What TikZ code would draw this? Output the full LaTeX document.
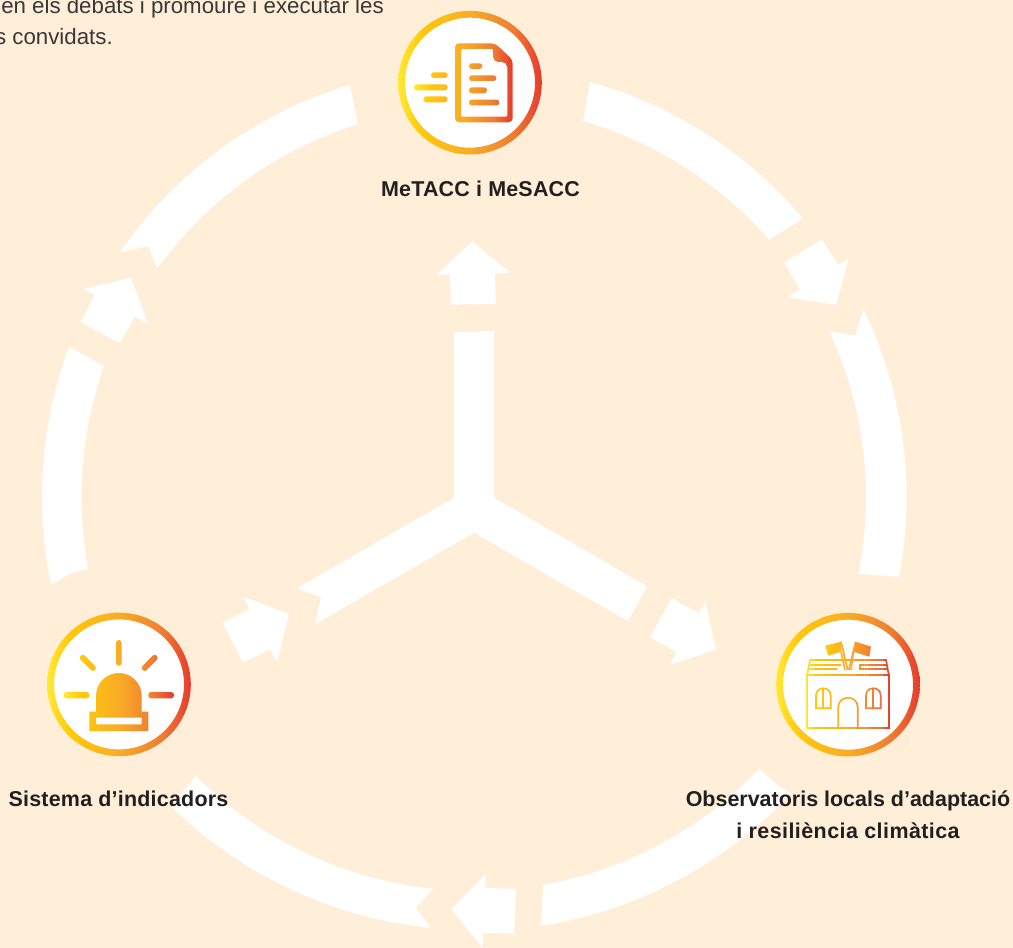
\documentclass[tikz,border=0pt]{standalone}
\usepackage{fontspec}
\setmainfont{Liberation Sans}
\definecolor{bgc}{HTML}{FFEFD8}
\definecolor{gA}{HTML}{FFE933}
\definecolor{gB}{HTML}{FFC80A}
\definecolor{gC}{HTML}{F8AC26}
\definecolor{gD}{HTML}{EF7D31}
\definecolor{gE}{HTML}{E63A2E}
\definecolor{labelc}{HTML}{231F20}
\definecolor{bodyc}{HTML}{3A3738}
\pgfdeclarehorizontalshading{grad}{100bp}{color(0bp)=(gA); color(25bp)=(gA); color(33bp)=(gB); color(50bp)=(gC); color(65bp)=(gD); color(75bp)=(gE); color(100bp)=(gE)}
\pgfdeclarehorizontalshading{gradflag}{100bp}{color(0bp)=(gB); color(25bp)=(gB); color(50bp)=(gC); color(75bp)=(gD); color(100bp)=(gD)}
\def\segm#1#2#3{-- plot[domain=#2:#3,samples=40,variable=\ang] ({474+#1*cos(\ang)},{497+#1*sin(\ang)})}
\def\rbar#1#2#3#4{(#1,#2) rectangle (#3,#4)}
\newcommand\iconring[2]{%
  \fill[white] (#1,#2) circle (66);
  \shade[shading=grad,even odd rule] (#1,#2) circle (71.8) (#1,#2) circle (65);
}
\newcommand\housestrokes{%
  \draw (807.3,674.7) rectangle (888.7,728.3);
  \draw (807.3,674.7) -- (810,660) -- (886,660) -- (888.7,674.7);
  \draw (809.3,664.7) -- (841,664.7);
  \draw (808.7,669.3) -- (837,669.3);
  \draw (886.7,664.7) -- (860,664.7) -- (860,669.3) -- (888,669.3);
  \draw (841,641.7) -- (847.7,670);
  \draw (841,651.7) -- (845,670);
  \draw (855.7,641.7) -- (848.8,670);
  \draw (853.3,651.7) -- (851,670);
  \draw (816,708.3) -- (816,695.6) .. controls (816,691) and (819,688.3) .. (823.3,688.3) .. controls (827.6,688.3) and (830.7,691) .. (830.7,695.6) -- (830.7,708.3) -- cycle;
  \draw (823.3,688.3) -- (823.3,708.3);
  \draw (866,708.3) -- (866,695.6) .. controls (866,691) and (869,688.3) .. (873.3,688.3) .. controls (877.6,688.3) and (880.7,691) .. (880.7,695.6) -- (880.7,708.3) -- cycle;
  \draw (873.3,688.3) -- (873.3,708.3);
  \draw (838.3,728.3) -- (838.3,707.4) .. controls (838.3,701.5) and (842.5,697.7) .. (848,697.7) .. controls (853.5,697.7) and (857.7,701.5) .. (857.7,707.4) -- (857.7,728.3);
}
\begin{document}
\begin{tikzpicture}[x=0.75pt,y=-0.75pt,line join=miter]
\useasboundingbox (0,0) rectangle (1013,948);
\fill[bgc] (0,0) rectangle (1013,948);

% outer ring: top right
\fill[white] (590,83) \segm{431}{-74.35}{-40.26} -- (802.3,219) -- (768.3,240.3) \segm{391.5}{-41.09}{-73.79} -- (583,122) -- cycle;
\fill[white] (821.7,239.3) -- (838,264.7) -- (849,258) -- (836,305) -- (787.7,297.3) -- (799.7,289) -- (784,262.7) -- cycle;
% right
\fill[white] (862.7,310.7) \segm{432.5}{-25.6}{10.64} -- (861,574) \segm{392}{11.3}{-25.06} -- (828.3,331.3) -- (855.3,335.3) -- cycle;
% bottom right
\fill[white] (759.3,768.3) -- (776,784) -- (790,793) \segm{434}{43.13}{81.12} -- (541,926) -- (543,885.3) \segm{394}{79.92}{43.56} -- cycle;
\fill[white] (451.3,909.3) -- (485.7,874) -- (485.3,887.7) -- (516,889) -- (514,933.7) -- (483.3,932.7) -- (482.7,947.7) -- cycle;
% bottom left
\fill[white] (433,889) \segm{394}{95.97}{135} -- (172,806) \segm{433}{134.3}{95.5} -- (432.3,929.3) -- (415.7,908) -- cycle;
% left
\fill[white] (70,347.3) \segm{432}{200.33}{168.27} -- (68.3,574.3) -- (87.7,568.3) \segm{392.5}{169.54}{199.5} -- cycle;
\fill[white] (83.7,289) -- (131,277.7) -- (148,323.7) -- (134.7,317) -- (119.7,343.3) -- (80.7,322) -- (94.7,295.3) -- cycle;
% top left
\fill[white] (120,252.3) \segm{430.5}{-145.35}{-106.75} -- (358,125) \segm{390.5}{-107.35}{-144.2} -- (148.3,246) -- cycle;

% centre
\fill[white] (472.3,241.3) -- (510,272.7) -- (495,273.3) -- (495.7,303.7) -- (451,304.7) -- (450,274.7) -- (436.7,274.7) -- cycle;
\fill[white] (454,332) -- (494,331) -- (494,497.7) -- (647,586.3) -- (628,621.3) -- (474,532.7) -- (315,624.3) -- (321,597.3) -- (297,588.3) -- (454,497.7) -- cycle;
\fill[white] (243.3,596.7) -- (289,614) -- (277.3,661.7) -- (270,649) -- (243,662.7) -- (222.7,622.7) -- (249.3,609.3) -- cycle;
\fill[white] (671.7,598.3) -- (698.7,613) -- (705.3,601.3) -- (716,649.3) -- (669.3,665.3) -- (676.7,652) -- (650,637.3) -- cycle;

% icon 1
\iconring{470}{82.7}
\shade[shading=grad,even odd rule,rounded corners=2.1pt]
  \rbar{469}{63.3}{482.3}{68.9} \rbar{469}{75.3}{496.3}{81} \rbar{469}{87.3}{487}{93.3} \rbar{469}{99.7}{499.3}{105.4}
  \rbar{431}{72.3}{447.7}{78} \rbar{414}{84.3}{447.7}{90.3} \rbar{423.3}{96.3}{447.7}{102.3}
  [rounded corners=3pt]
  (455,43.3) -- (495,43.3) -- (512.7,60) -- (512.7,122.3) -- (455,122.3) -- cycle
  [rounded corners=0.8pt]
  (461,49) -- (493,49) -- (493,56) [rounded corners=4pt] -- (493,62) -- (507.3,62) [rounded corners=0.8pt] -- (507.3,116.7) -- (461,116.7) -- cycle;

% icon 2
\iconring{119}{684.4}
\shade[shading=grad,even odd rule,rounded corners=2.1pt]
  \rbar{116}{640}{121.7}{665.7} \rbar{63.7}{692}{89.3}{698.3} \rbar{148.3}{692}{174}{698.3}
  (82.75,653.65) -- (78.65,657.75) -- (92.95,672.05) -- (97.05,667.95) -- cycle
  (154.65,653.65) -- (158.75,657.75) -- (144.75,672.05) -- (140.65,667.95) -- cycle
  [sharp corners]
  (96,711.7) -- (96,695.8) .. controls (96,683.2) and (106.3,673) .. (118.85,673) .. controls (131.4,673) and (141.7,683.2) .. (141.7,695.8) -- (141.7,711.7) -- (148.3,711.7) -- (148.3,731) -- (89.3,731) -- (89.3,711.7) -- cycle
  (96,717.7) rectangle (141.7,724.3);

% icon 3
\iconring{848}{684.7}
\foreach \ca/\cb/\xa/\xb in {gA/gB/805/816,gB/gC/816/848,gC/gD/848/874,gD/gE/874/891}{
  \foreach \k in {0,...,7}{
    \pgfmathsetmacro\xl{\xa+(\xb-\xa)*\k/8}
    \pgfmathsetmacro\xr{\xa+(\xb-\xa)*(\k+1)/8+0.2}
    \pgfmathsetmacro\pct{(\k+0.5)*12.5}
    \colorlet{cur}{\cb!\pct!\ca}
    \begin{scope}[draw=cur,line width=1.25pt]
      \clip (\xl,635) rectangle (\xr,735);
      \housestrokes
    \end{scope}
  }
}
\shade[shading=gradflag]
  (825.3,645.7) -- (841,641.7) -- (841,651.7) -- (828.3,655.7) -- cycle
  (855.7,641.7) -- (871,646.7) -- (869.3,656.7) -- (853.3,651.7) -- cycle;

% labels
\node[anchor=base,text=labelc,font=\fontsize{16.1}{19}\selectfont\bfseries\addfontfeature{LetterSpace=1},inner sep=0pt] (lab1) at (480.5,196.5) {MeTACC i MeSACC};
\node[anchor=base,text=labelc,font=\fontsize{16.1}{19}\selectfont\bfseries\addfontfeature{LetterSpace=1},inner sep=0pt] (lab2) at (118.5,806) {Sistema d’indicadors};
\node[anchor=base,text=labelc,font=\fontsize{16.1}{19}\selectfont\bfseries,inner sep=0pt] (lab3) at (848,806) {Observatoris locals d’adaptació};
\node[anchor=base,text=labelc,font=\fontsize{16.1}{19}\selectfont\bfseries\addfontfeature{LetterSpace=2},inner sep=0pt] (lab4) at (848,838) {i resiliència climàtica};
\node[anchor=base east,text=bodyc,font=\fontsize{16.7}{20}\selectfont,inner sep=0pt] (txt1) at (384,14) {en els debats i promoure i executar les};
\node[anchor=base east,text=bodyc,font=\fontsize{16.7}{20}\selectfont,inner sep=0pt] (txt2) at (113,45) {s convidats.};
\end{tikzpicture}
\end{document}
